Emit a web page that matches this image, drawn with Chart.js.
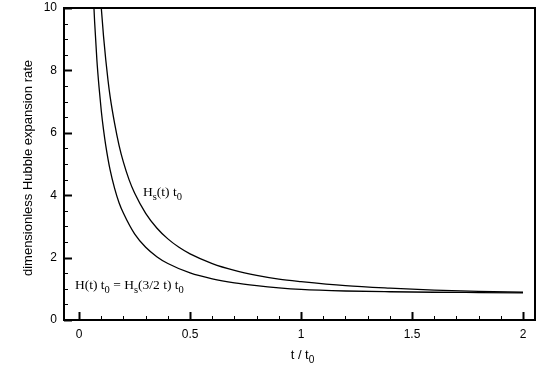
<!DOCTYPE html>
<html>
<head>
<meta charset="utf-8">
<script src="https://cdn.jsdelivr.net/npm/chart.js@4.4.1/dist/chart.umd.min.js"></script>
<style>
  body { margin: 0; background: #fff; }
</style>
</head>
<body>
<canvas id="chart" width="545" height="385"></canvas>
<script>
// Hs(t) t0 (upper curve)
const tHs = [0.09, 0.1, 0.11, 0.12, 0.13, 0.14, 0.16, 0.18, 0.2, 0.225, 0.25, 0.3, 0.35, 0.4, 0.45, 0.5, 0.6, 0.7, 0.8, 0.9, 1.0, 1.2, 1.4, 1.6, 1.8, 2.0];
const valHs = [11.1, 10.0, 9.1, 8.35, 7.7, 7.15, 6.3, 5.6, 5.05, 4.5, 4.07, 3.42, 2.95, 2.6, 2.33, 2.12, 1.81, 1.59, 1.43, 1.31, 1.23, 1.1, 1.02, 0.96, 0.92, 0.89];

// H(t) t0 = Hs(3/2 t) t0 (lower curve)
const tH = [0.06, 0.065, 0.07, 0.08, 0.09, 0.1, 0.11, 0.12, 0.14, 0.16, 0.18, 0.2, 0.25, 0.3, 0.35, 0.4, 0.5, 0.6, 0.7, 0.8, 0.9, 1.0, 1.2, 1.4, 1.6, 1.8, 2.0];
const valH = [11.1, 10.3, 9.55, 8.35, 7.45, 6.7, 6.1, 5.6, 4.8, 4.22, 3.76, 3.42, 2.76, 2.33, 2.03, 1.81, 1.51, 1.32, 1.19, 1.1, 1.03, 0.98, 0.93, 0.905, 0.89, 0.88, 0.87];

const xTicks = [0, 0.5, 1, 1.5, 2];
const yTicks = [0, 2, 4, 6, 8, 10];

const SANS = "'Liberation Sans', Arial, sans-serif";
const SERIF = "'Liberation Serif', 'Times New Roman', serif";

function toPoints(xs, ys) {
  return xs.map((x, i) => ({ x: x, y: ys[i] }));
}

// draw text pieces, some as subscripts
function drawRich(ctx, x, y, parts, size, family, align) {
  let total = 0;
  parts.forEach(p => {
    ctx.font = (p[1] ? size * 0.78 : size) + "px " + family;
    total += ctx.measureText(p[0]).width;
  });
  let cx = align === "center" ? x - total / 2 : x;
  ctx.textAlign = "left";
  ctx.textBaseline = "alphabetic";
  parts.forEach(p => {
    ctx.font = (p[1] ? size * 0.78 : size) + "px " + family;
    ctx.fillText(p[0], cx, p[1] ? y + size * 0.3 : y);
    cx += ctx.measureText(p[0]).width;
  });
}

const framePlugin = {
  id: "frame",
  beforeDraw(chart) {
    const ctx = chart.ctx;
    ctx.save();
    ctx.fillStyle = "#fff";
    ctx.fillRect(0, 0, chart.width, chart.height);
    ctx.restore();
  },
  afterDraw(chart) {
    const ctx = chart.ctx;
    const a = chart.chartArea;
    const xs = chart.scales.x, ys = chart.scales.y;
    ctx.save();
    ctx.strokeStyle = "#000";

    // inward ticks on the bottom axis
    for (let i = 0; i <= 20; i++) {
      const v = i / 10;
      const px = Math.round(xs.getPixelForValue(v)) + 0.5;
      const major = i % 5 === 0;
      ctx.lineWidth = major ? 2 : 1;
      ctx.beginPath();
      ctx.moveTo(px, a.bottom);
      ctx.lineTo(px, a.bottom - (major ? 8 : 4));
      ctx.stroke();
    }
    // inward ticks on the left axis
    for (let i = 0; i <= 20; i++) {
      const v = i / 2;
      const py = Math.round(ys.getPixelForValue(v)) + 0.5;
      const major = i % 4 === 0;
      ctx.lineWidth = major ? 2 : 1;
      ctx.beginPath();
      ctx.moveTo(a.left, py);
      ctx.lineTo(a.left + (major ? 8 : 4), py);
      ctx.stroke();
    }

    ctx.lineWidth = 2;
    ctx.strokeRect(a.left, a.top, a.right - a.left, a.bottom - a.top);

    ctx.fillStyle = "#000";
    // axis titles
    ctx.save();
    ctx.translate(28, (a.top + a.bottom) / 2 + 4);
    ctx.rotate(-Math.PI / 2);
    ctx.font = "13px " + SANS;
    ctx.textAlign = "center";
    ctx.textBaseline = "middle";
    ctx.fillText("dimensionless Hubble expansion rate", 0, 0);
    ctx.restore();

    drawRich(ctx, (a.left + a.right) / 2 + 3, 359, [["t / t", false], ["0", true]], 13, SANS, "center");

    // curve labels
    drawRich(ctx, 143, 196, [["H", false], ["s", true], ["(t) t", false], ["0", true]], 13.5, SERIF, "left");
    drawRich(ctx, 75, 289, [["H(t) t", false], ["0", true], [" = H", false], ["s", true], ["(3/2 t) t", false], ["0", true]], 13.5, SERIF, "left");
    ctx.restore();
  }
};

new Chart(document.getElementById("chart"), {
  type: "line",
  data: {
    datasets: [
      {
        label: "Hs(t) t0",
        data: toPoints(tHs, valHs),
        borderColor: "#000",
        borderWidth: 1.3,
        pointRadius: 0,
        cubicInterpolationMode: "monotone",
      },
      {
        label: "H(t) t0",
        data: toPoints(tH, valH),
        borderColor: "#000",
        borderWidth: 1.3,
        pointRadius: 0,
        cubicInterpolationMode: "monotone",
      },
    ],
  },
  options: {
    responsive: false,
    animation: false,
    layout: { padding: { top: 8, right: 10, left: 0, bottom: 0 } },
    plugins: { legend: { display: false }, tooltip: { enabled: false } },
    scales: {
      x: {
        type: "linear",
        min: -0.068,
        max: 2.054,
        grid: { display: false, drawTicks: false },
        border: { display: false },
        ticks: {
          color: "#000",
          font: { size: 12, family: SANS },
          padding: 7,
          maxRotation: 0,
          callback: (v) => String(v),
        },
        afterBuildTicks: (s) => { s.ticks = xTicks.map(v => ({ value: v })); },
        afterFit: (s) => { s.height = 65; s.paddingLeft = 0; s.paddingRight = 0; },
      },
      y: {
        min: 0,
        max: 10,
        grid: { display: false, drawTicks: false },
        border: { display: false },
        ticks: { color: "#000", font: { size: 12, family: SANS }, padding: 7, callback: (v) => String(v) },
        afterBuildTicks: (s) => { s.ticks = yTicks.map(v => ({ value: v })); },
        afterFit: (s) => { s.width = 64; s.paddingTop = 0; s.paddingBottom = 0; },
      },
    },
  },
  plugins: [framePlugin],
});
</script>
</body>
</html>
